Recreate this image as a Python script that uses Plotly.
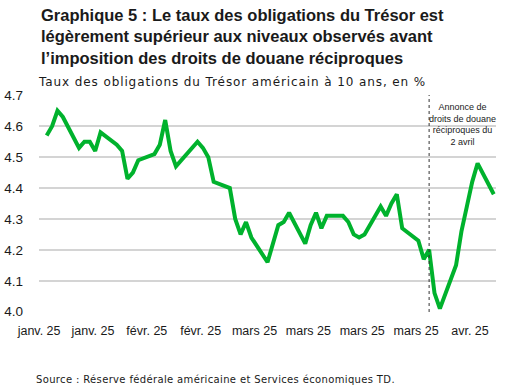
import plotly.graph_objects as go
import pandas as pd

dates = ["2025-01-21","2025-01-22","2025-01-23","2025-01-24","2025-01-27","2025-01-28","2025-01-29","2025-01-30","2025-01-31",
         "2025-02-03","2025-02-04","2025-02-05","2025-02-06","2025-02-07","2025-02-10","2025-02-11","2025-02-12","2025-02-13","2025-02-14",
         "2025-02-18","2025-02-19","2025-02-20","2025-02-21","2025-02-24","2025-02-25","2025-02-26","2025-02-27","2025-02-28",
         "2025-03-03","2025-03-04","2025-03-05","2025-03-06","2025-03-07","2025-03-10","2025-03-11","2025-03-12","2025-03-13","2025-03-14",
         "2025-03-17","2025-03-18","2025-03-19","2025-03-20","2025-03-21","2025-03-24","2025-03-25","2025-03-26","2025-03-27","2025-03-28",
         "2025-03-31","2025-04-01","2025-04-02","2025-04-03","2025-04-04","2025-04-07","2025-04-08","2025-04-09","2025-04-10","2025-04-11",
         "2025-04-14"]
yields = [4.57,4.60,4.65,4.63,4.53,4.55,4.55,4.52,4.58,
          4.54,4.52,4.43,4.45,4.49,4.51,4.54,4.62,4.52,4.47,
          4.55,4.53,4.50,4.42,4.40,4.30,4.25,4.29,4.24,
          4.16,4.22,4.28,4.29,4.32,4.22,4.28,4.32,4.27,4.31,
          4.31,4.29,4.25,4.24,4.25,4.34,4.31,4.35,4.38,4.27,
          4.23,4.17,4.20,4.06,4.01,4.15,4.26,4.34,4.42,4.48,
          4.38]
tick_dates = ["2025-01-19 14:00","2025-01-29 14:00","2025-02-08 14:00","2025-02-18 14:00","2025-02-28 14:00",
              "2025-03-10 14:00","2025-03-20 14:00","2025-03-30 14:00","2025-04-09 14:00"]
tick_labels = ["janv. 25","janv. 25","févr. 25","févr. 25","mars 25","mars 25","mars 25","mars 25","avr. 25"]
y_ticks = [4.0,4.1,4.2,4.3,4.4,4.5,4.6,4.7]
event_date = "2025-04-02"

title = "Graphique 5 : Le taux des obligations du Trésor est<br>légèrement supérieur aux niveaux observés avant<br>l’imposition des droits de douane réciproques"
subtitle = "Taux des obligations du Trésor américain à 10 ans, en %"
event_text = "Annonce de<br>droits de douane<br>réciproques du<br>2 avril"
source = "Source : Réserve fédérale américaine et Services économiques TD."

W, H = 517, 386
L, R, T, B = 39, 496, 95, 312
def px(x):
    return (x - L) / (R - L)
def py(y):
    return (B - y) / (B - T)

FONT = "Liberation Sans, Arial, sans-serif"
WIDE = "DejaVu Sans, Verdana, sans-serif"

fig = go.Figure()
fig.add_trace(go.Scatter(x=pd.to_datetime(dates), y=yields, mode="lines",
                         line=dict(color="#00B22D", width=4), hoverinfo="skip"))

fig.add_shape(type="line", x0=event_date, x1=event_date, xref="x", yref="paper", y0=0, y1=1,
              line=dict(color="#333333", width=1, dash="dot"))

fig.update_layout(
    width=W, height=H,
    margin=dict(l=L, r=W - R, t=T, b=H - B, pad=0),
    paper_bgcolor="white", plot_bgcolor="white",
    showlegend=False,
    font=dict(family=FONT, color="#1a1a1a"),
    xaxis=dict(type="date", range=["2025-01-19 13:40", "2025-04-14 10:00"], automargin=False,
               tickmode="array", tickvals=pd.to_datetime(tick_dates), ticktext=tick_labels,
               showgrid=False, zeroline=False, showline=False, ticks="",
               tickfont=dict(size=12.5, family=FONT, color="#1a1a1a"), ticklabelstandoff=9),
    yaxis=dict(range=[3.999, 4.701], tickmode="array", tickvals=y_ticks, tickformat=".1f", automargin=False,
               showgrid=True, gridcolor="#D4D4D4", gridwidth=1.5, zeroline=False, showline=False,
               ticks="", tickfont=dict(size=13.5, family=FONT, color="#1a1a1a"), ticklabelstandoff=15),
)

fig.add_annotation(text="<b>" + title + "</b>", xref="paper", yref="paper", x=px(39), y=py(4),
                   xanchor="left", yanchor="top", align="left", showarrow=False,
                   font=dict(size=16.5, family=FONT, color="#1a1a1a"))
fig.add_annotation(text='<span style="letter-spacing:0.9px">' + subtitle + '</span>',
                   xref="paper", yref="paper", x=px(36), y=py(82),
                   xanchor="left", yanchor="middle", align="left", showarrow=False,
                   font=dict(size=12, family=WIDE, color="#1a1a1a"))
fig.add_annotation(text=event_text, xref="paper", yref="paper", x=px(462), y=py(125),
                   xanchor="center", yanchor="middle", align="center", showarrow=False,
                   font=dict(size=9, family=FONT, color="#1a1a1a"))
fig.add_annotation(text='<span style="letter-spacing:0.35px">' + source + '</span>',
                   xref="paper", yref="paper", x=px(34), y=py(379),
                   xanchor="left", yanchor="middle", align="left", showarrow=False,
                   font=dict(size=10, family=WIDE, color="#1a1a1a"))

fig.write_html("out.html")
